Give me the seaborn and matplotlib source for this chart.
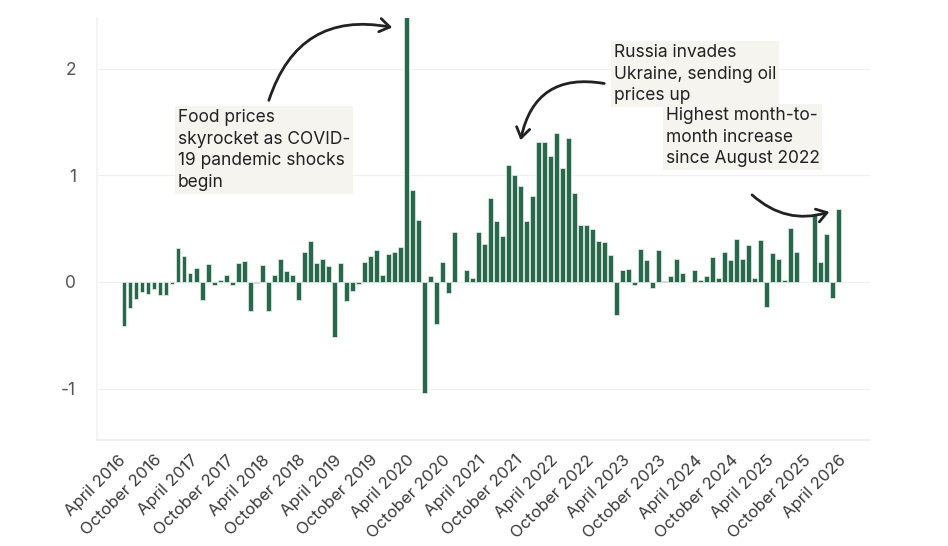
import numpy as np
import pandas as pd
import matplotlib.pyplot as plt
import seaborn as sns

# monthly % change, April 2016 .. April 2026 (NaN = no data)
values_2016 = [np.nan, -0.41, -0.24, -0.16, -0.09, -0.11, -0.07, -0.12, -0.12]
values_2017 = [-0.02, 0.32, 0.24, 0.08, 0.13, -0.17, 0.17, -0.03, 0.02, 0.07, -0.03, 0.18]
values_2018 = [0.20, -0.27, -0.01, 0.16, -0.27, 0.07, 0.22, 0.10, 0.07, -0.17, 0.28, 0.38]
values_2019 = [0.18, 0.22, 0.15, -0.52, 0.18, -0.18, -0.08, -0.02, 0.19, 0.24, 0.30, 0.07]
values_2020 = [0.26, 0.28, 0.33, 2.60, 0.86, 0.58, -1.04, 0.06, -0.39, 0.19, -0.10, 0.47]
values_2021 = [0.00, 0.11, 0.04, 0.47, 0.36, 0.79, 0.57, 0.43, 1.10, 1.00, 0.90, 0.57]
values_2022 = [0.81, 1.31, 1.31, 1.18, 1.40, 1.07, 1.35, 0.83, 0.53, 0.53, 0.50, 0.38]
values_2023 = [0.37, 0.25, -0.31, 0.11, 0.12, -0.03, 0.31, 0.21, -0.06, 0.30, 0.01, 0.06]
values_2024 = [0.22, 0.08, 0.00, 0.11, 0.02, 0.06, 0.23, 0.04, 0.28, 0.21, 0.40, 0.22]
values_2025 = [0.35, 0.04, 0.39, -0.23, 0.27, 0.22, 0.02, 0.51, 0.28, np.nan, np.nan, 0.63]
values_2026 = [0.19, 0.45, -0.15, 0.68]

change = (values_2016 + values_2017 + values_2018 + values_2019 + values_2020
          + values_2021 + values_2022 + values_2023 + values_2024 + values_2025
          + values_2026)
months = pd.date_range("2016-04-01", "2026-04-01", freq="MS").strftime("%B %Y").tolist()

y_ticks = [-1, 0, 1, 2]
y_labels = ["-1", "0", "1", "2"]

df = pd.DataFrame({"month": months, "change": change})

BAR = "#28694b"
INK = "#222222"
BOX = "#f6f4ef"
W, H = 948, 546

sns.set_theme(style="white")
plt.rcParams["font.family"] = ["Inter", "DejaVu Sans"]

fig = plt.figure(figsize=(W / 100, H / 100), dpi=100)
ax = fig.add_axes([97 / W, 1 - 440 / H, (870 - 97) / W, (440 - 18) / H])

sns.barplot(data=df, x="month", y="change", order=months, color=BAR,
            width=0.8, errorbar=None, saturation=1,
            edgecolor="#e9efeb", linewidth=0.5, ax=ax)

ax.set_xlim(-3.5, 125.2)
ax.set_ylim(-1.481, 2.474)
ax.set_xlabel("")
ax.set_ylabel("")

ax.set_yticks(y_ticks)
ax.set_yticklabels(y_labels, fontsize=12.5, color="#555555")
ax.yaxis.grid(True, color="#f0f0f0", linewidth=0.9)
ax.set_axisbelow(True)

ax.set_xticks(range(len(months)))
ax.set_xticklabels([m if i % 6 == 0 else "" for i, m in enumerate(months)],
                   rotation=45, ha="right", rotation_mode="anchor",
                   fontsize=12, color="#3a3a3a")
ax.tick_params(axis="x", length=4, color="#e6e6e6", width=0.8, pad=5)
ax.tick_params(axis="y", length=0, pad=15)

for side in ["top", "right"]:
    ax.spines[side].set_visible(False)
ax.spines["left"].set_color("#f3f3f3")
ax.spines["bottom"].set_color("#ececec")


def note(x, y, s):
    # x, y: top-left corner in image pixels
    fig.text(x / W, 1 - y / H, s, fontsize=12.5, color=INK, va="top", ha="left",
             linespacing=1.36,
             bbox=dict(boxstyle="square,pad=0.15", fc=BOX, ec="none"))


note(178, 109, "Food prices\nskyrocket as COVID-\n19 pandemic shocks\nbegin")
note(614, 44, "Russia invades\nUkraine, sending oil\nprices up")
note(666, 107, "Highest month-to-\nmonth increase\nsince August 2022")

arrow = dict(arrowstyle="->,head_length=0.6,head_width=0.4", color=INK, lw=2)
ax.annotate("", xy=(395, H - 28), xytext=(268, H - 103), xycoords="figure pixels",
            textcoords="figure pixels",
            arrowprops=dict(connectionstyle="arc3,rad=-0.45", **arrow))
ax.annotate("", xy=(520, H - 143), xytext=(607, H - 84), xycoords="figure pixels",
            textcoords="figure pixels",
            arrowprops=dict(connectionstyle="arc3,rad=0.5", **arrow))
ax.annotate("", xy=(832, H - 211), xytext=(750, H - 193), xycoords="figure pixels",
            textcoords="figure pixels",
            arrowprops=dict(connectionstyle="arc3,rad=0.3", **arrow))

fig.savefig("out.png", dpi=100)
